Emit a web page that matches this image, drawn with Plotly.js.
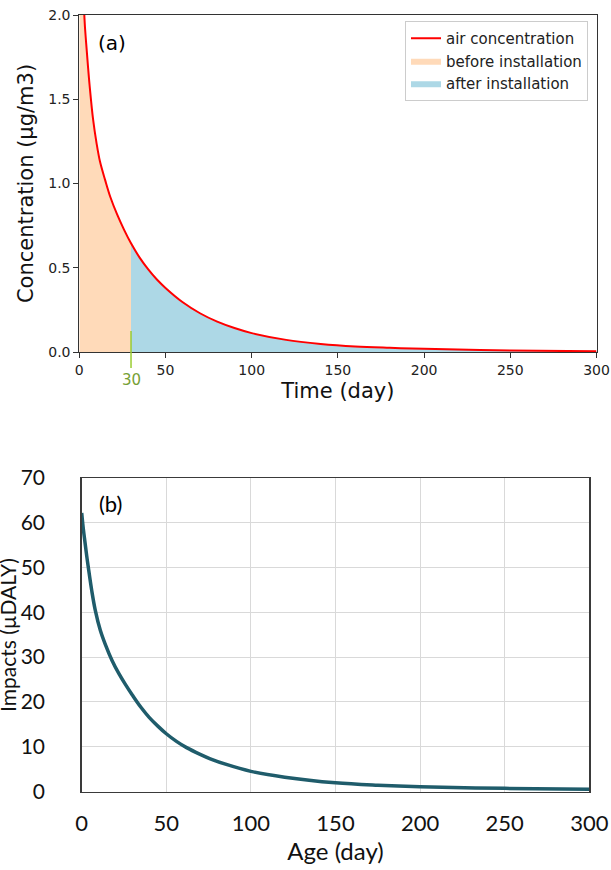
<!DOCTYPE html>
<html>
<head>
<meta charset="utf-8">
<script src="https://cdn.plot.ly/plotly-3.0.1.min.js"></script>
<style>html,body{margin:0;padding:0;background:#fff;}#chart{width:611px;height:870px;}</style>
</head>
<body>
<div id="chart"></div>
<script>
// ---- Panel (a): air concentration (µg/m3) vs time (day) ----
const timeDays = [0, 1, 2, 3, 4, 5, 6, 8, 10, 12, 15, 18, 22, 26, 30, 35, 40, 45, 50, 60, 70, 80, 90, 100, 120, 140, 160, 180, 200, 250, 300];
const airConc  = [8, 3.6, 2.45, 1.98, 1.83, 1.7, 1.58, 1.38, 1.24, 1.13, 1.02, 0.92, 0.815, 0.725, 0.645, 0.56, 0.49, 0.43, 0.38, 0.295, 0.23, 0.18, 0.142, 0.112, 0.072, 0.048, 0.033, 0.025, 0.019, 0.0085, 0.0042];
const installDay = 30;
const seriesNames = ["air concentration", "before installation", "after installation"];

// ---- Panel (b): impacts (µDALY) vs age (day) ----
const ageDays = [0, 1, 2, 3, 4, 6, 8, 11, 14, 18, 22, 26, 30, 35, 40, 45, 50, 56, 62, 70, 76, 85, 100, 120, 150, 175, 200, 250, 300];
const impacts = [62.2, 58.5, 55.5, 52.5, 49.8, 44.7, 40.5, 36, 32.8, 29.2, 26.3, 23.8, 21.5, 18.8, 16.5, 14.6, 12.9, 11.2, 9.8, 8.3, 7.3, 6.1, 4.5, 3.2, 1.95, 1.4, 1.05, 0.7, 0.5];

const beforeX = [], beforeY = [], afterX = [], afterY = [];
timeDays.forEach((t, i) => {
  if (t <= installDay) { beforeX.push(t); beforeY.push(airConc[i]); }
  if (t >= installDay) { afterX.push(t); afterY.push(airConc[i]); }
});

const W = 611, H = 870, M = {l: 70, r: 10, t: 10, b: 10};
const px = v => (v - M.l) / (W - M.l - M.r);          // pixel x -> paper x
const py = v => (H - M.b - v) / (H - M.t - M.b);      // pixel y -> paper y

const mpl = "DejaVu Sans, sans-serif";
const xl = "Lato, Carlito, sans-serif";

const traces = [
  {x: beforeX, y: beforeY, type: "scatter", mode: "lines", fill: "tozeroy",
   fillcolor: "#FFDAB9", line: {width: 0, shape: "spline"}, name: seriesNames[1],
   legendrank: 2, xaxis: "x", yaxis: "y", hoverinfo: "skip"},
  {x: afterX, y: afterY, type: "scatter", mode: "lines", fill: "tozeroy",
   fillcolor: "#ADD8E6", line: {width: 0, shape: "spline"}, name: seriesNames[2],
   legendrank: 3, xaxis: "x", yaxis: "y", hoverinfo: "skip"},
  {x: timeDays, y: airConc, type: "scatter", mode: "lines",
   line: {color: "#ff0000", width: 2, shape: "spline"}, name: seriesNames[0],
   legendrank: 1, xaxis: "x", yaxis: "y"},
  {x: ageDays, y: impacts, type: "scatter", mode: "lines",
   line: {color: "#1f5c6b", width: 3.5, shape: "spline"}, showlegend: false,
   xaxis: "x2", yaxis: "y2"}
];

const layout = {
  width: W, height: H, autosize: false,
  margin: M,
  paper_bgcolor: "#fff", plot_bgcolor: "#fff",
  showlegend: true,
  legend: {x: px(588), xanchor: "right", y: py(21), yanchor: "top", itemwidth: 30,
           bgcolor: "rgba(255,255,255,0.9)", bordercolor: "#cccccc", borderwidth: 1,
           font: {family: mpl, size: 15, color: "#222"}},
  xaxis: {domain: [px(79.3), px(596.5)], range: [0, 300], tickvals: [0, 50, 100, 150, 200, 250, 300],
          showgrid: false, zeroline: false, showline: true, mirror: true, linecolor: "#333", linewidth: 1,
          ticks: "outside", ticklen: 5, tickcolor: "#333", anchor: "y",
          tickfont: {family: mpl, size: 14, color: "#222"},
          title: {text: "Time (day)", font: {family: mpl, size: 21, color: "#111"}, standoff: 6}},
  yaxis: {domain: [py(352), py(15)], range: [0, 2], tickvals: [0, 0.5, 1, 1.5, 2], tickformat: ".1f",
          showgrid: false, zeroline: false, showline: true, mirror: true, linecolor: "#333", linewidth: 1,
          ticks: "outside", ticklen: 5, tickcolor: "#333", anchor: "x",
          tickfont: {family: mpl, size: 14, color: "#222"},
          title: {text: "Concentration (µg/m3)", font: {family: mpl, size: 21, color: "#111"}, standoff: 8}},
  xaxis2: {domain: [px(81.7), px(589.3)], range: [0, 300], dtick: 50, anchor: "y2",
           showgrid: true, gridcolor: "#d9d9d9", gridwidth: 1, zeroline: false,
           showline: true, mirror: true, linecolor: "#3a3a3a", linewidth: 1.5, ticks: "",
           ticklabelstandoff: 12,
           tickfont: {family: xl, size: 22, color: "#111"},
           title: {text: "Age (day)", font: {family: xl, size: 24, color: "#111"}, standoff: 6}},
  yaxis2: {domain: [py(791.5), py(478)], range: [0, 70], dtick: 10, anchor: "x2",
           showgrid: true, gridcolor: "#d9d9d9", gridwidth: 1, zeroline: false,
           showline: true, mirror: true, linecolor: "#3a3a3a", linewidth: 1.5, ticks: "",
           ticklabelstandoff: 31,
           tickfont: {family: xl, size: 21, color: "#111"}},
  shapes: [
    {type: "line", xref: "x", yref: "paper", x0: installDay, x1: installDay,
     y0: py(331), y1: py(368), line: {color: "#9acd32", width: 1.5}}
  ],
  annotations: [
    {text: String(installDay), xref: "x", yref: "paper", x: installDay, y: py(380),
     showarrow: false, xanchor: "center", yanchor: "middle",
     font: {family: mpl, size: 15, color: "#76a035"}},
    {text: "(a)", xref: "paper", yref: "paper", x: px(112), y: py(43),
     showarrow: false, xanchor: "center", yanchor: "middle",
     font: {family: mpl, size: 20, color: "#000"}},
    {text: "(b)", xref: "paper", yref: "paper", x: px(110), y: py(503),
     showarrow: false, xanchor: "center", yanchor: "middle",
     font: {family: xl, size: 22, color: "#000"}},
    {text: "Impacts (µDALY)", xref: "paper", yref: "paper", x: px(7), y: py(635),
     textangle: -90, showarrow: false, xanchor: "center", yanchor: "middle",
     font: {family: xl, size: 21, color: "#111"}}
  ]
};

Plotly.newPlot("chart", traces, layout, {staticPlot: true, displayModeBar: false});
</script>
</body>
</html>
